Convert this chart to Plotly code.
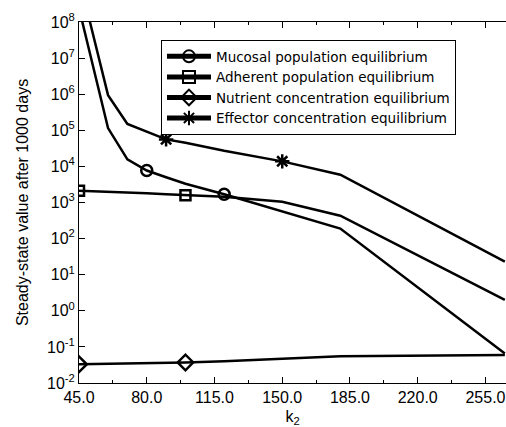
import plotly.graph_objects as go

# ---- data ----
k_values = [45, 60, 70, 80, 90, 100, 120, 150, 180, 265]
mucosal = [2.4e8, 1.15e5, 1.56e4, 7.7e3, 5.0e3, 3.3e3, 1.7e3, 5.7e2, 1.9e2, 0.066]
adherent = [2.1e3, 2.0e3, 1.9e3, 1.8e3, 1.7e3, 1.6e3, 1.45e3, 1.05e3, 4.3e2, 2.0]
nutrient = [0.033, 0.034, 0.035, 0.035, 0.036, 0.037, 0.040, 0.047, 0.055, 0.060]
effector = [1.7e9, 9.4e5, 1.5e5, 9.0e4, 5.6e4, 4.5e4, 2.7e4, 1.38e4, 5.9e3, 23]

mucosal_marker_k = [80, 120]
adherent_marker_k = [45, 100]
nutrient_marker_k = [45, 100]
effector_marker_k = [90, 150]

series_names = [
    "Mucosal population equilibrium",
    "Adherent population equilibrium",
    "Nutrient concentration equilibrium",
    "Effector concentration equilibrium",
]

x_tickvals = [45, 80, 115, 150, 185, 220, 255]
x_ticktext = ["45.0", "80.0", "115.0", "150.0", "185.0", "220.0", "255.0"]
y_exponents = [-2, -1, 0, 1, 2, 3, 4, 5, 6, 7, 8]

FONT = "Arial, 'Liberation Sans', Helvetica, sans-serif"
LEGEND_FONT = "'DejaVu Sans', Arial, sans-serif"

fig = go.Figure()

series = [
    (series_names[0], mucosal, mucosal_marker_k, "circle-open", 11),
    (series_names[1], adherent, adherent_marker_k, "square-open", 10),
    (series_names[2], nutrient, nutrient_marker_k, "diamond-open", 12),
    (series_names[3], effector, effector_marker_k, "asterisk-open", 12),
]

for name, vals, mk, sym, sz in series:
    sizes = [sz if k in mk else 0 for k in k_values]
    fig.add_trace(go.Scatter(
        x=k_values, y=vals, name=name,
        mode="lines+markers",
        line=dict(color="black", width=2.5),
        marker=dict(symbol=sym, size=sizes, color="black", opacity=1,
                    line=dict(color="black", width=2.5)),
        cliponaxis=True,
    ))

fig.update_layout(
    width=506, height=427,
    margin=dict(l=79, r=0, t=22, b=44),
    paper_bgcolor="white", plot_bgcolor="white",
    font=dict(family=FONT, size=16, color="black"),
    showlegend=True,
    legend=dict(
        x=0.192, y=0.95, xanchor="left", yanchor="top",
        bgcolor="white", bordercolor="black", borderwidth=1,
        font=dict(family=LEGEND_FONT, size=13.5, color="black"),
        itemsizing="constant", itemwidth=44, tracegroupgap=0,
    ),
    xaxis=dict(
        range=[45, 265.6],
        tickmode="array", tickvals=x_tickvals, ticktext=x_ticktext,
        ticks="inside", ticklen=6, tickwidth=1, tickcolor="black",
        minor=dict(tick0=45, dtick=17.5, ticks="inside", ticklen=3, tickcolor="black"),
        showline=True, linecolor="black", linewidth=1, mirror="ticks",
        showgrid=False, zeroline=False,
        title=dict(text="k<sub>2</sub>", font=dict(size=16), standoff=8),
        tickfont=dict(size=16),
    ),
    yaxis=dict(
        type="log", range=[-2, 8],
        tickmode="array",
        tickvals=[10.0 ** e for e in y_exponents],
        ticktext=["10<sup>%d</sup>" % e for e in y_exponents],
        ticks="inside", ticklen=6, tickwidth=1, tickcolor="black",
        showline=True, linecolor="black", linewidth=1, mirror=False,
        showgrid=False, zeroline=False,
        title=dict(text="Steady-state value after 1000 days", font=dict(size=16), standoff=14),
        tickfont=dict(size=16),
    ),
)

fig.write_html("out.html")
